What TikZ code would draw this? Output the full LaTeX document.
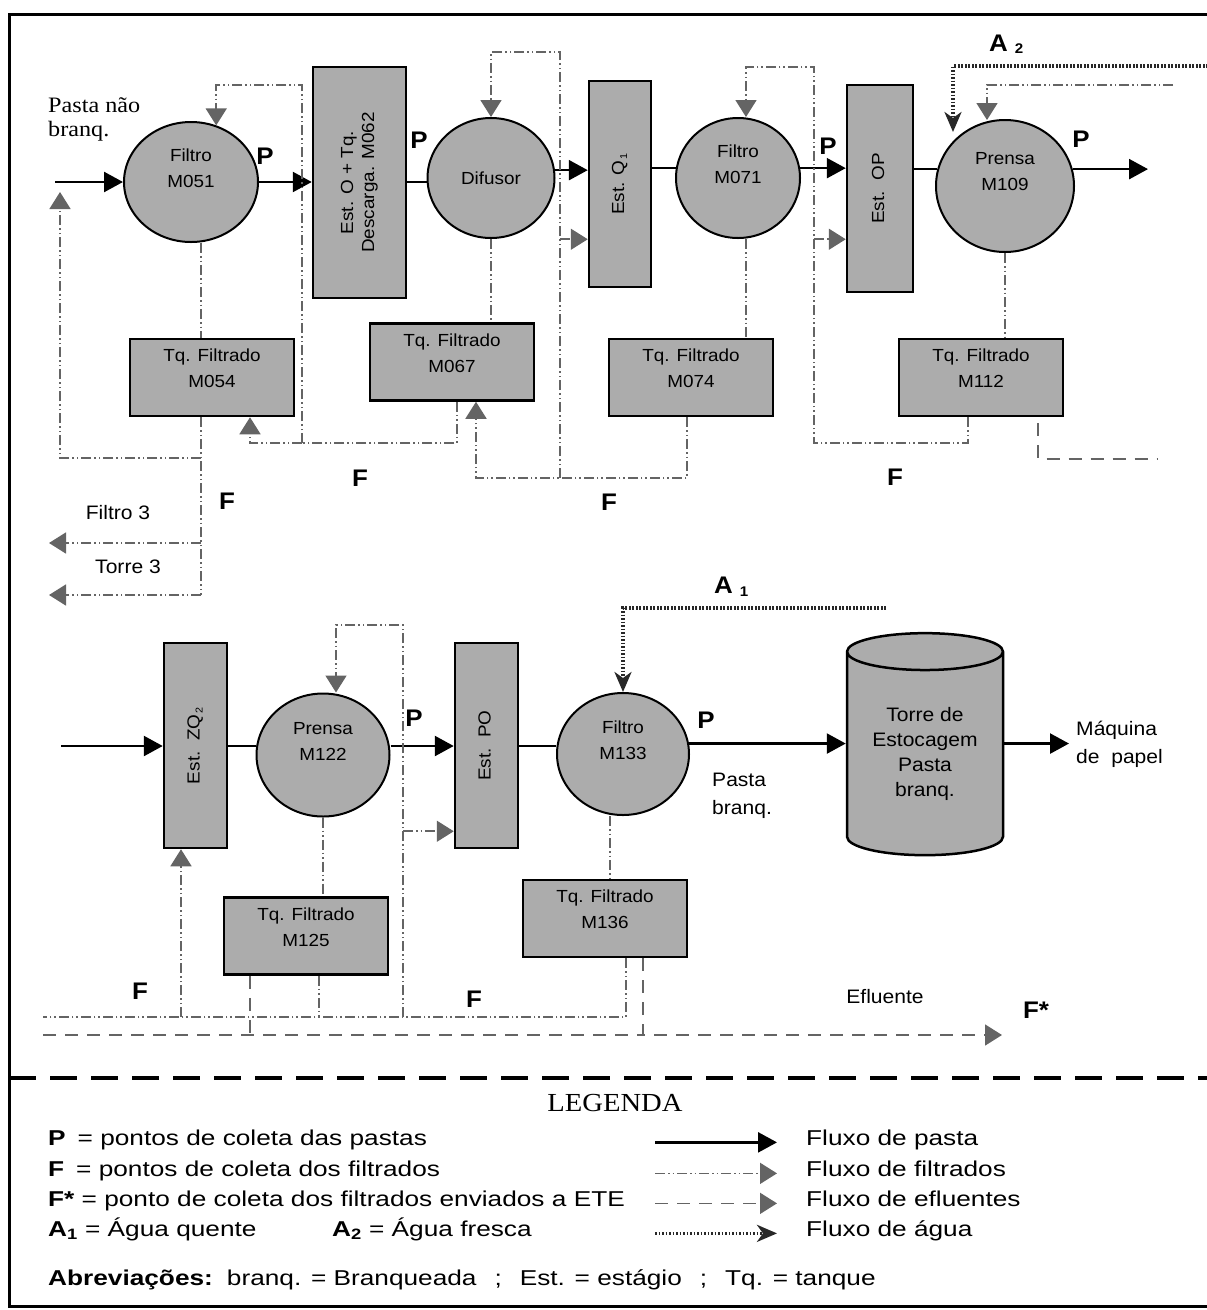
\documentclass[tikz,border=0pt]{standalone}
\usepackage{fontspec}
\setmainfont{Liberation Sans}[FakeStretch=1.08]
\newfontfamily\serfont{Liberation Serif}[FakeStretch=1.1]
\newfontfamily\legfont{Liberation Sans}[FakeStretch=1.22]
\usetikzlibrary{arrows.meta,shapes.geometric,calc}

\definecolor{boxgray}{RGB}{172,172,172}
\definecolor{linegray}{RGB}{100,100,100}
\definecolor{watergray}{RGB}{40,40,40}

\newcommand{\unitfont}{\fontsize{17.5}{26}\selectfont}
\newcommand{\ptfont}{\fontsize{24}{24}\selectfont\bfseries}
\newcommand{\txtfont}{\fontsize{19.5}{28}\selectfont}
\newcommand{\vtext}[1]{\rotatebox{90}{\fontsize{17.5}{21}\selectfont\begin{tabular}{@{}c@{}}#1\end{tabular}}}
\newcommand{\lowidx}[1]{\raisebox{-3pt}{\fontsize{10}{10}\selectfont\,#1}}

\tikzset{
  unit/.style={ellipse, draw, fill=boxgray, line width=2pt, inner sep=0pt, align=center, font=\unitfont},
  stage/.style={rectangle, draw, fill=boxgray, line width=2.5pt, inner sep=0pt, font=\unitfont},
  tank/.style={rectangle, draw, fill=boxgray, line width=2.5pt, inner sep=0pt, align=center,
    font=\unitfont, minimum width=164pt, minimum height=77pt},
  tower/.style={cylinder, shape border rotate=90, aspect=0.35, draw, fill=boxgray, line width=2.5pt,
    inner sep=0pt, align=center, font=\fontsize{19.5}{25}\selectfont},
  pasta/.style={line width=2.5pt, -{Triangle[length=19pt,width=20pt]}},
  pastaline/.style={line width=2.5pt},
  filt/.style={linegray, line width=1.6pt, dash pattern=on 10pt off 3pt on 1.5pt off 3pt on 1.5pt off 3pt},
  filtarr/.style={filt, -{Triangle[length=17pt,width=21pt]}},
  eflu/.style={linegray, line width=1.6pt, dash pattern=on 13pt off 9pt},
  efluarr/.style={eflu, -{Triangle[length=17pt,width=21pt]}},
  agua/.style={watergray, line width=3.2pt, dash pattern=on 1.6pt off 1.9pt,
    -{Stealth[length=20pt,width=17pt,inset=6pt]}},
  ptlabel/.style={font=\ptfont, inner sep=0pt},
  txt/.style={font=\txtfont, inner sep=0pt, align=left},
  legtxt/.style={font=\legfont\fontsize{21.5}{26}\selectfont, inner sep=0pt, anchor=base west},
  sepline/.style={line width=4.5pt, dash pattern=on 27pt off 14pt}
}

\begin{document}
\begin{tikzpicture}[x=1pt,y=-1pt]
  \useasboundingbox (0,0) rectangle (1207,1310);
  \clip (0,0) rectangle (1207,1310);
  \fill[white] (0,0) rectangle (1207,1310);
  \draw[line width=3pt] (9,14) rectangle (1220,1306);

  % upper line of equipment
  \node[unit, minimum width=134pt, minimum height=120pt] (m051) at (191,182) {Filtro\\M051\\[2pt]\mbox{}};
  \node[stage, minimum width=93pt, minimum height=231pt] (esto) at (359.5,182.5) {\vtext{Est. O + Tq.\\Descarga. M062}};
  \node[unit, minimum width=127pt, minimum height=120pt] (difusor) at (491,178) {Difusor};
  \node[stage, minimum width=62pt, minimum height=206pt] (estq1) at (620,184) {\vtext{Est. Q\lowidx{1}}};
  \node[unit, minimum width=124pt, minimum height=120pt] (m071) at (738,178) {Filtro\\M071\\[2pt]\mbox{}};
  \node[stage, minimum width=66pt, minimum height=207pt] (estop) at (880,188.5) {\vtext{Est.\ \ OP}};
  \node[unit, minimum width=138pt, minimum height=132pt] (m109) at (1005,186) {Prensa\\M109\\[4pt]\mbox{}};

  \node[tank] (t054) at (212,377.5) {Tq. Filtrado\\M054\\[-8pt]\mbox{}};
  \node[tank] (t067) at (452,362) {Tq. Filtrado\\M067\\[-8pt]\mbox{}};
  \node[tank] (t074) at (691,377.5) {Tq. Filtrado\\M074\\[-8pt]\mbox{}};
  \node[tank] (t112) at (981,377.5) {Tq. Filtrado\\M112\\[-8pt]\mbox{}};

  % lower line of equipment
  \node[stage, minimum width=63pt, minimum height=205pt] (estzq2) at (195.5,745.5) {\vtext{Est.\ \ ZQ\lowidx{2}}};
  \node[unit, minimum width=133pt, minimum height=123pt] (m122) at (323,755) {Prensa\\M122\\[2pt]\mbox{}};
  \node[stage, minimum width=63pt, minimum height=205pt] (estpo) at (486.5,745.5) {\vtext{Est.\ \ PO}};
  \node[unit, minimum width=132pt, minimum height=122pt] (m133) at (623,754) {Filtro\\M133\\[2pt]\mbox{}};
  \node[tower, minimum width=156pt, minimum height=222pt] (torre) at (925,754) {Torre de\\Estocagem\\Pasta\\branq.};
  \node[tank] (t125) at (306,936) {Tq. Filtrado\\M125\\[-8pt]\mbox{}};
  \node[tank] (t136) at (605,918.5) {Tq. Filtrado\\M136\\[-8pt]\mbox{}};

  % free ends and junctions
  \coordinate (in1) at (55,182);
  \coordinate (out1) at (1148,169);
  \coordinate (fa) at (201,458);
  \coordinate (fb) at (201,543);
  \coordinate (fc) at (201,595);
  \coordinate (fd) at (60,458);
  \coordinate (filtro3tip) at (49,543);
  \coordinate (torre3tip) at (49,595);
  \coordinate (g1) at (457,443);
  \coordinate (g2) at (302,443);
  \coordinate (g3) at (250,443);
  \coordinate (top1) at (302,85);
  \coordinate (h1) at (687,478);
  \coordinate (h2) at (560,478);
  \coordinate (h3) at (476,478);
  \coordinate (top2) at (560,52);
  \coordinate (v1) at (746,0);
  \coordinate (n1) at (968,443);
  \coordinate (n2) at (814,443);
  \coordinate (top3) at (814,67);
  \coordinate (r109) at (1173,85);
  \coordinate (t109) at ($(m109.north)+(-18,1)$);
  \coordinate (w2) at (1215,66);
  \coordinate (a2tip) at ($(m109.north)+(-52,13)$);
  \coordinate (e112) at ($(t112.south east)+(-26,6)$);
  \coordinate (e1) at (1158,459);
  \coordinate (q1in) at ($(estq1.south west)+(0,-49)$);
  \coordinate (opin) at ($(estop.south west)+(0,-54)$);

  \coordinate (in2) at (61,746);
  \coordinate (out2) at (1069,745);
  \coordinate (b0) at (43,1017);
  \coordinate (bzq) at (181,1017);
  \coordinate (b125) at (319,1017);
  \coordinate (bpo) at (403,1017);
  \coordinate (b136) at (626,1017);
  \coordinate (c122) at (336,625);
  \coordinate (v2) at (610,0);
  \coordinate (poin) at ($(estpo.south west)+(0,-18)$);
  \coordinate (u0) at (43,1035);
  \coordinate (u125) at (250,1035);
  \coordinate (u136) at (643,1035);
  \coordinate (uend) at (1002,1035);
  \coordinate (w1) at (886,608);

  % pulp flow, upper line
  \draw[pasta] (in1) -- (in1 -| m051.west);
  \draw[pasta] (m051.east) -- (m051.east -| esto.west);
  \draw[pastaline] (esto.east |- m051.east) -- (difusor.west |- m051.east);
  \draw[pasta] (difusor.7) -- (difusor.7 -| estq1.west);
  \draw[pastaline] (estq1.east |- m071.171) -- (m071.171);
  \draw[pasta] (m071.9) -- (m071.9 -| estop.west);
  \draw[pastaline] (estop.east |- m109.166) -- (m109.166);
  \draw[pasta] (m109.14) -- (m109.14 -| out1);

  % filtrates, upper line
  \draw[filt] (m051.south -| fa) -- (t054.north -| fa);
  \draw[filt] (t054.south -| fa) -- (fc);
  \draw[filtarr] (fc) -- (torre3tip);
  \draw[filtarr] (fb) -- (filtro3tip);
  \draw[filtarr] (fa) -- (fd) -- ($(in1)+(5,10)$);
  \draw[filt] (t067.south -| g1) -- (g1) -- (g2);
  \draw[filtarr] (g2) -- (g3) -- (t054.south -| g3);
  \draw[filtarr] (g2) -- (top1) -- (top1 -| m051.66) -- (m051.66);
  \draw[filt] (difusor.south) -- (difusor.south |- t067.north);
  \draw[filtarr] (t074.south -| h1) -- (h1) -- (h3) -- (t067.south -| h3);
  \draw[filtarr] (h2) -- (top2) -- (top2 -| difusor.north) -- (difusor.north);
  \draw[filtarr] (h2 |- q1in) -- (q1in);
  \draw[filt] (m071.south -| v1) -- (t074.north -| v1);
  \draw[filtarr] (t112.south -| n1) -- (n1) -- (n2) -- (top3) -- (top3 -| v1) -- (m071.north -| v1);
  \draw[filtarr] (n2 |- opin) -- (opin);
  \draw[filt] (m109.south) -- (m109.south |- t112.north);
  \draw[filtarr] (r109) -| (t109);
  \draw[eflu] (e112) |- (e1);
  \draw[agua] (w2) -| (a2tip);

  % pulp flow, lower line
  \draw[pasta] (in2) -- (in2 -| estzq2.west);
  \draw[pastaline] (estzq2.east |- in2) -- (m122.west |- in2);
  \draw[pasta] (m122.east |- in2) -- (estpo.west |- in2);
  \draw[pastaline] (estpo.east |- in2) -- (m133.west |- in2);
  \draw[pasta] (m133.9) -- (m133.9 -| torre.west);
  \draw[pasta] (torre.east |- m133.9) -- (out2 |- m133.9);

  % filtrates and effluent, lower line
  \draw[filt] (m122.south) -- (m122.south |- t125.north);
  \draw[filt] (m133.south -| v2) -- (t136.north -| v2);
  \draw[filt] (t136.south -| b136) -- (b136) -- (b0);
  \draw[filtarr] (bzq) -- (estzq2.south -| bzq);
  \draw[filt] (t125.south -| b125) -- (b125);
  \draw[filtarr] (bpo) -- (bpo |- c122) -- (c122) -- (m122.north -| c122);
  \draw[filtarr] (bpo |- poin) -- (poin);
  \draw[eflu] (u0) -- (u136);
  \draw[eflu] (t125.south -| u125) -- (u125);
  \draw[efluarr] (t136.south -| u136) -- (u136) -- (uend);
  \draw[agua] (w1) -| (m133.north);

  % sampling points
  \node[ptlabel] (p1) at (265,156) {P};
  \node[ptlabel] (p2) at (419,140) {P};
  \node[ptlabel] (p3) at (828,146) {P};
  \node[ptlabel] (p4) at (1081,139) {P};
  \node[ptlabel] (p5) at (414,718) {P};
  \node[ptlabel] (p6) at (706,720) {P};
  \node[ptlabel] (f1) at (227,501) {F};
  \node[ptlabel] (f2) at (360,478) {F};
  \node[ptlabel] (f3) at (609,502) {F};
  \node[ptlabel] (f4) at (895,477) {F};
  \node[ptlabel] (f5) at (140,991) {F};
  \node[ptlabel] (f6) at (474,999) {F};
  \node[ptlabel] (fstar) at (1036,1010) {F*};
  \node[ptlabel, anchor=base west] (a2) at (989,51) {A\hspace{7pt}\raisebox{-2pt}{\fontsize{14}{14}\selectfont 2}};
  \node[ptlabel, anchor=base west] (a1) at (714,593) {A\hspace{7pt}\raisebox{-3pt}{\fontsize{14}{14}\selectfont 1}};

  % texts
  \node[txt, anchor=north west, font=\serfont\fontsize{22}{24}\selectfont] (pnb) at (48,97) {Pasta não\\branq.};
  \node[txt] (filtro3) at (118,513) {Filtro 3};
  \node[txt] (torre3) at (128,567) {Torre 3};
  \node[txt] (efluente) at (885,997) {Efluente};
  \node[txt, anchor=west] (pb) at (712,796) {Pasta\\branq.};
  \node[txt, anchor=west] (maq) at (1076,744) {Máquina\\de\ \ papel};

  % legend
  \draw[sepline] (9,1078) -- (1215,1078);
  \node[font=\serfont\fontsize{26}{26}\selectfont, inner sep=0pt] (legenda) at (615,1103) {LEGENDA};
  \node[legtxt] (l1) at (48,1145) {\textbf{P}\hspace{12pt}= pontos de coleta das pastas};
  \node[legtxt] (l2) at (48,1176) {\textbf{F}\hspace{12pt}= pontos de coleta dos filtrados};
  \node[legtxt] (l3) at (48,1206) {\textbf{F*} = ponto de coleta dos filtrados enviados a ETE};
  \node[legtxt] (l4) at (48,1236) {\textbf{A\textsubscript{1}} = Água quente};
  \node[legtxt] (l4b) at (332,1236) {\textbf{A\textsubscript{2}} = Água fresca};
  \node[legtxt] (l5) at (48,1285) {\textbf{Abreviações:}\hspace{14pt}branq. = Branqueada\hspace{18pt};\hspace{18pt}Est. = estágio\hspace{18pt};\hspace{18pt}Tq. = tanque};
  \node[legtxt] (k1) at (806,1145) {Fluxo de pasta};
  \node[legtxt] (k2) at (806,1176) {Fluxo de filtrados};
  \node[legtxt] (k3) at (806,1206) {Fluxo de efluentes};
  \node[legtxt] (k4) at (806,1236) {Fluxo de água};
  \draw[pasta] ($(k1.mid west)+(-151,0)$) -- ($(k1.mid west)+(-29,0)$);
  \draw[filtarr] ($(k2.mid west)+(-151,0)$) -- ($(k2.mid west)+(-29,0)$);
  \draw[efluarr] ($(k3.mid west)+(-151,0)$) -- ($(k3.mid west)+(-29,0)$);
  \draw[agua] ($(k4.mid west)+(-151,0)$) -- ($(k4.mid west)+(-29,0)$);
\end{tikzpicture}
\end{document}
